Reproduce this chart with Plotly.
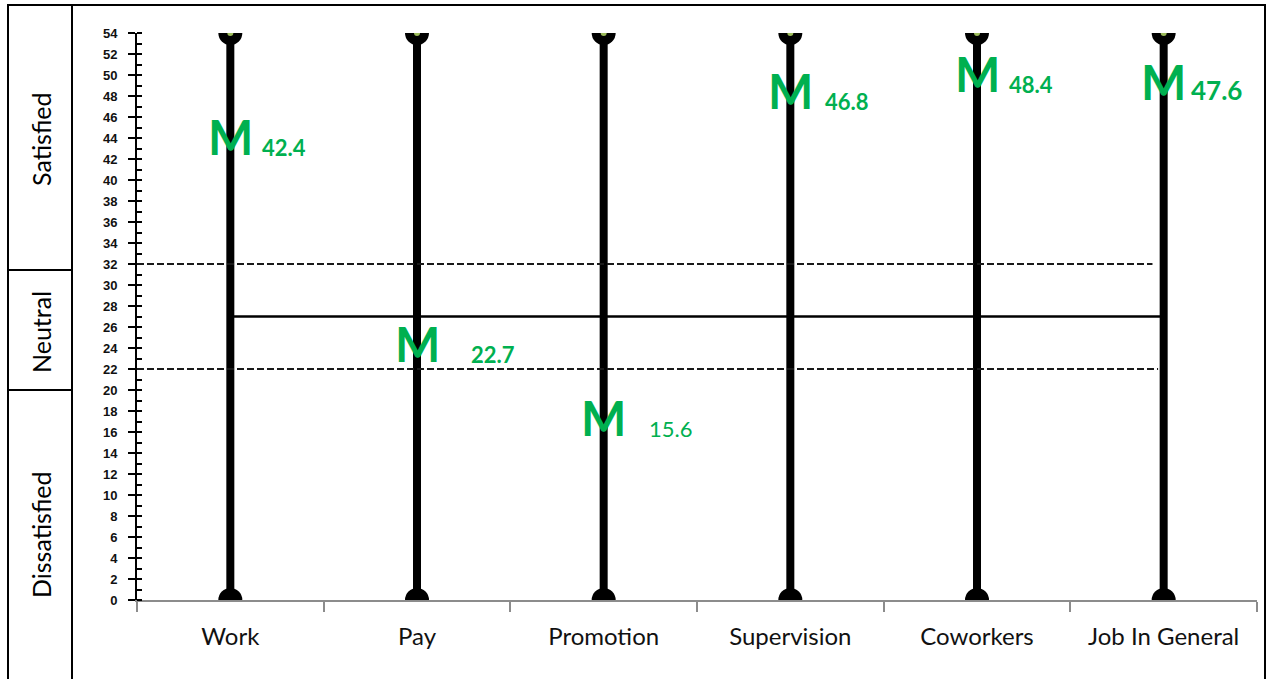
import plotly.graph_objects as go

# Facet scores on the job satisfaction scale
categories = ["Work", "Pay", "Promotion", "Supervision", "Coworkers", "Job In General"]
means = [42.4, 22.7, 15.6, 46.8, 48.4, 47.6]
mean_labels = ["42.4", "22.7", "15.6", "46.8", "48.4", "47.6"]
scale_min = 0
scale_max = 54
upper_cut = 32   # satisfied above this
lower_cut = 22   # dissatisfied below this
midpoint = 27
y_ticks = list(range(0, 55, 2))
zones = ["Satisfied", "Neutral", "Dissatisfied"]

# label styling (offsets in px to the right of the "M")
value_xshift = [30, 52, 43, 33, 30, 25]
value_size = [22, 22, 22, 22, 22, 26]
value_weight = ["bold", "bold", "normal", "bold", "bold", "bold"]

GREEN = "#00B050"
xs = list(range(len(categories)))

fig = go.Figure()

# full-range scale bars for each facet
bx, by = [], []
for i in xs:
    bx += [i, i, None]
    by += [scale_min, scale_max, None]
fig.add_trace(go.Scatter(x=bx, y=by, mode="lines",
                         line=dict(color="black", width=8),
                         hoverinfo="skip", showlegend=False))

# end caps (clipped by the plot area into half discs)
fig.add_trace(go.Scatter(x=xs + xs, y=[scale_max] * len(xs) + [scale_min] * len(xs),
                         mode="markers", cliponaxis=True,
                         marker=dict(symbol="circle", size=24, color="black"),
                         hoverinfo="skip", showlegend=False))
fig.add_trace(go.Scatter(x=xs, y=[scale_max] * len(xs), mode="markers", cliponaxis=True,
                         marker=dict(symbol="circle", size=6, color="#9BBB59"),
                         hoverinfo="skip", showlegend=False))

# cut-off lines
fig.add_shape(type="line", xref="x", yref="y", x0=-0.5, x1=4.94, y0=upper_cut, y1=upper_cut,
              line=dict(color="#1a1a1a", width=2, dash="7px,3px"))
fig.add_shape(type="line", xref="x", yref="y", x0=-0.5, x1=4.97, y0=lower_cut, y1=lower_cut,
              line=dict(color="#1a1a1a", width=2, dash="7px,3px"))
fig.add_shape(type="line", xref="x", yref="y", x0=0, x1=len(categories) - 1,
              y0=midpoint, y1=midpoint, line=dict(color="black", width=2.5))

# mean markers "M" and their values
for i, (m, lab) in enumerate(zip(means, mean_labels)):
    fig.add_annotation(x=i, y=m, xref="x", yref="y", text="M", showarrow=False,
                       xanchor="center", yanchor="bottom", yshift=-12,
                       font=dict(family="Lato", size=48, color=GREEN, weight="bold"))
    fig.add_annotation(x=i, y=m, xref="x", yref="y", text=lab, showarrow=False,
                       xanchor="left", yanchor="bottom",
                       yshift=-round(0.21 * value_size[i]) - 3, xshift=value_xshift[i],
                       font=dict(family="Lato", size=value_size[i], color=GREEN,
                                 weight=value_weight[i]))

# frame and zone column on the left
L, T = 137, 33
PW, PH = 1120, 567
def px_x(p):
    return (p - L) / PW
def px_y(p):
    return (T + PH - p) / PH

border = dict(color="black", width=2)
fig.add_shape(type="rect", xref="paper", yref="paper",
              x0=px_x(8), x1=px_x(1265), y0=px_y(700), y1=px_y(5), line=border)
fig.add_shape(type="line", xref="paper", yref="paper",
              x0=px_x(72), x1=px_x(72), y0=px_y(700), y1=px_y(5), line=border)
for yy in (270, 390):
    fig.add_shape(type="line", xref="paper", yref="paper",
                  x0=px_x(8), x1=px_x(72), y0=px_y(yy), y1=px_y(yy), line=border)
for name, yc in zip(zones, (140, 332, 535)):
    fig.add_annotation(x=px_x(41), y=px_y(yc), xref="paper", yref="paper", text=name,
                       showarrow=False, textangle=-90, xanchor="center", yanchor="middle",
                       font=dict(family="Lato", size=25, color="#000000"))

fig.update_xaxes(range=[-0.5, len(categories) - 0.5],
                 tickvals=xs, ticktext=categories, ticks="", ticklen=0,
                 ticklabelstandoff=14,
                 tickfont=dict(family="Lato", size=24, color="#111111"),
                 showline=True, linecolor="#8c8c8c", linewidth=2,
                 showgrid=False, zeroline=False,
                 minor=dict(tickvals=[i + 0.5 for i in range(-1, len(categories))],
                            ticks="outside", ticklen=10, tickcolor="#8c8c8c", tickwidth=2,
                            showgrid=False))
fig.update_yaxes(range=[scale_min, scale_max], tickvals=y_ticks,
                 ticks="outside", ticklen=7, tickwidth=2, tickcolor="black",
                 ticklabelstandoff=8,
                 tickfont=dict(family="Liberation Sans", size=13, color="#111111", weight="bold"),
                 showline=True, linecolor="black", linewidth=2,
                 showgrid=False, zeroline=False,
                 minor=dict(dtick=1, ticks="inside", ticklen=5, tickwidth=2,
                            tickcolor="black", showgrid=False))

fig.update_layout(width=1267, height=679, plot_bgcolor="white", paper_bgcolor="white",
                  margin=dict(l=L, r=1267 - L - PW, t=T, b=679 - T - PH),
                  showlegend=False)

fig.write_html("out.html")
